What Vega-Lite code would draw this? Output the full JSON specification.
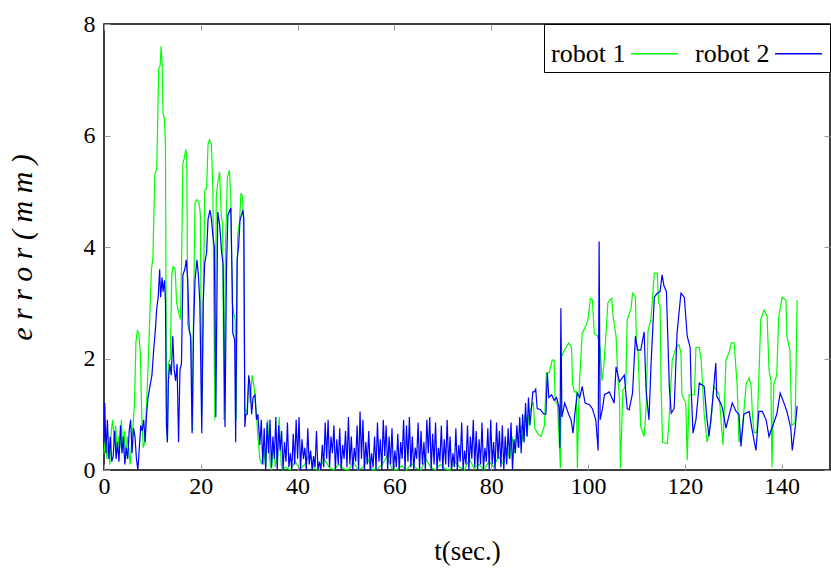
{
"$schema":"https://vega.github.io/schema/vega-lite/v6.json",
"width":726,"height":446,
"autosize":{"type":"none"},
"padding":{"left":104,"top":24,"right":1,"bottom":112},
"background":"white",
"config":{"view":{"stroke":"black","strokeWidth":1.5},"font":"Liberation Serif"},
"datasets":{
"g":[{"t":0,"robot 1":0.3},{"t":0.3,"robot 1":0.6},{"t":0.6,"robot 1":0.2},{"t":0.9,"robot 1":0.5},{"t":1.2,"robot 1":0.1},{"t":1.5,"robot 1":0.7},{"t":1.8,"robot 1":0.9},{"t":2.1,"robot 1":0.5},{"t":2.4,"robot 1":0.8},{"t":2.7,"robot 1":0.3},{"t":3,"robot 1":0.6},{"t":3.3,"robot 1":0.4},{"t":3.6,"robot 1":0.9},{"t":3.9,"robot 1":0.3},{"t":4.2,"robot 1":0.7},{"t":4.5,"robot 1":0.2},{"t":4.8,"robot 1":0.6},{"t":5.1,"robot 1":0.4},{"t":5.4,"robot 1":0.1},{"t":5.7,"robot 1":0.5},{"t":6,"robot 1":0.8},{"t":6.3,"robot 1":1.2},{"t":6.6,"robot 1":2.3},{"t":6.9,"robot 1":2.5},{"t":7.2,"robot 1":2.45},{"t":7.5,"robot 1":2.1},{"t":7.8,"robot 1":1.0},{"t":8.1,"robot 1":0.4},{"t":8.4,"robot 1":0.5},{"t":8.7,"robot 1":1.0},{"t":9,"robot 1":1.6},{"t":9.4,"robot 1":2.6},{"t":9.8,"robot 1":3.6},{"t":10.1,"robot 1":3.8},{"t":10.5,"robot 1":5.3},{"t":10.9,"robot 1":5.4},{"t":11.1,"robot 1":6.3},{"t":11.3,"robot 1":7.2},{"t":11.6,"robot 1":7.25},{"t":11.8,"robot 1":7.6},{"t":12,"robot 1":7.3},{"t":12.2,"robot 1":6.4},{"t":12.5,"robot 1":6.3},{"t":12.7,"robot 1":5.8},{"t":12.9,"robot 1":1.2},{"t":13.1,"robot 1":0.5},{"t":13.3,"robot 1":1.9},{"t":13.7,"robot 1":2.0},{"t":14,"robot 1":3.5},{"t":14.3,"robot 1":3.65},{"t":14.7,"robot 1":3.6},{"t":15,"robot 1":3.0},{"t":15.5,"robot 1":2.8},{"t":15.8,"robot 1":2.7},{"t":16,"robot 1":3.6},{"t":16.3,"robot 1":5.5},{"t":16.6,"robot 1":5.6},{"t":16.9,"robot 1":5.75},{"t":17.1,"robot 1":5.6},{"t":17.3,"robot 1":2.6},{"t":17.7,"robot 1":2.5},{"t":18,"robot 1":2.3},{"t":18.3,"robot 1":0.7},{"t":18.5,"robot 1":2.9},{"t":18.8,"robot 1":4.8},{"t":19.2,"robot 1":4.85},{"t":19.6,"robot 1":4.8},{"t":19.9,"robot 1":4.6},{"t":20.2,"robot 1":1.0},{"t":20.5,"robot 1":2.8},{"t":20.8,"robot 1":5.0},{"t":21.2,"robot 1":5.05},{"t":21.5,"robot 1":5.85},{"t":21.8,"robot 1":5.92},{"t":22.2,"robot 1":5.85},{"t":22.5,"robot 1":5.0},{"t":22.9,"robot 1":0.9},{"t":23.2,"robot 1":4.9},{"t":23.5,"robot 1":5.15},{"t":23.9,"robot 1":5.35},{"t":24.2,"robot 1":4.6},{"t":24.5,"robot 1":4.4},{"t":24.8,"robot 1":0.9},{"t":25.1,"robot 1":4.0},{"t":25.5,"robot 1":5.25},{"t":25.9,"robot 1":5.38},{"t":26.2,"robot 1":4.9},{"t":26.5,"robot 1":3.0},{"t":26.8,"robot 1":2.8},{"t":27.1,"robot 1":2.7},{"t":27.3,"robot 1":0.9},{"t":27.6,"robot 1":4.2},{"t":28,"robot 1":4.45},{"t":28.3,"robot 1":4.97},{"t":28.6,"robot 1":4.9},{"t":28.8,"robot 1":4.5},{"t":29.1,"robot 1":1.1},{"t":29.5,"robot 1":1.0},{"t":29.9,"robot 1":1.6},{"t":30.2,"robot 1":1.2},{"t":30.6,"robot 1":1.7},{"t":31,"robot 1":1.5},{"t":31.4,"robot 1":1.1},{"t":31.8,"robot 1":0.6},{"t":32.2,"robot 1":0.2},{"t":32.6,"robot 1":0.1},{"t":33,"robot 1":0.4},{"t":33.4,"robot 1":0.05},{"t":33.8,"robot 1":0.9},{"t":34.2,"robot 1":0.2},{"t":34.6,"robot 1":0.0},{"t":35,"robot 1":0.5},{"t":35.4,"robot 1":0.05},{"t":35.8,"robot 1":0.3},{"t":36.2,"robot 1":0.95},{"t":36.6,"robot 1":0.1},{"t":37,"robot 1":0.0},{"t":37.5,"robot 1":0.05},{"t":38.5,"robot 1":0.0},{"t":39.5,"robot 1":0.15},{"t":40.5,"robot 1":0.02},{"t":41.5,"robot 1":0.1},{"t":42.5,"robot 1":0.3},{"t":43.5,"robot 1":0.02},{"t":44.5,"robot 1":0.0},{"t":45.5,"robot 1":0.2},{"t":46.5,"robot 1":0.05},{"t":47.5,"robot 1":0.0},{"t":48.5,"robot 1":0.1},{"t":49.5,"robot 1":0.02},{"t":50.5,"robot 1":0.0},{"t":51.5,"robot 1":0.15},{"t":52.5,"robot 1":0.0},{"t":53.5,"robot 1":0.05},{"t":54.5,"robot 1":0.2},{"t":55.5,"robot 1":0.0},{"t":56.5,"robot 1":0.02},{"t":57.5,"robot 1":0.1},{"t":58.5,"robot 1":0.25},{"t":59.5,"robot 1":0.02},{"t":60.5,"robot 1":0.0},{"t":61.5,"robot 1":0.08},{"t":62.5,"robot 1":0.0},{"t":63.5,"robot 1":0.12},{"t":64.5,"robot 1":0.03},{"t":65.5,"robot 1":0.0},{"t":66.5,"robot 1":0.2},{"t":67.5,"robot 1":0.05},{"t":68.5,"robot 1":0.0},{"t":69.5,"robot 1":0.1},{"t":70.5,"robot 1":0.02},{"t":71.5,"robot 1":0.0},{"t":72.5,"robot 1":0.15},{"t":73.5,"robot 1":0.05},{"t":74.5,"robot 1":0.0},{"t":75.5,"robot 1":0.2},{"t":76.5,"robot 1":0.02},{"t":77.5,"robot 1":0.1},{"t":78.5,"robot 1":0.0},{"t":79.5,"robot 1":0.15},{"t":80.5,"robot 1":0.05},{"t":81.5,"robot 1":0.25},{"t":82.5,"robot 1":0.1},{"t":83.2,"robot 1":0.4},{"t":83.8,"robot 1":0.2},{"t":84.3,"robot 1":0.6},{"t":84.8,"robot 1":0.3},{"t":85.3,"robot 1":0.7},{"t":85.8,"robot 1":0.4},{"t":86.2,"robot 1":0.8},{"t":86.6,"robot 1":0.5},{"t":87,"robot 1":1.0},{"t":87.4,"robot 1":0.6},{"t":87.8,"robot 1":1.0},{"t":88.2,"robot 1":1.1},{"t":88.7,"robot 1":1.22},{"t":89,"robot 1":0.75},{"t":89.6,"robot 1":0.65},{"t":90.3,"robot 1":0.6},{"t":91,"robot 1":0.8},{"t":91.4,"robot 1":1.74},{"t":92,"robot 1":1.75},{"t":92.6,"robot 1":1.97},{"t":93,"robot 1":1.97},{"t":93.2,"robot 1":1.25},{"t":93.7,"robot 1":1.17},{"t":94.1,"robot 1":0.42},{"t":94.3,"robot 1":0.03},{"t":94.5,"robot 1":2.03},{"t":95.1,"robot 1":2.15},{"t":95.5,"robot 1":2.2},{"t":96,"robot 1":2.28},{"t":96.6,"robot 1":2.2},{"t":96.8,"robot 1":1.55},{"t":97.2,"robot 1":1.4},{"t":97.6,"robot 1":1.4},{"t":97.8,"robot 1":0.03},{"t":98.2,"robot 1":1.5},{"t":98.8,"robot 1":2.45},{"t":99.6,"robot 1":2.6},{"t":100,"robot 1":2.7},{"t":100.5,"robot 1":3.08},{"t":100.9,"robot 1":3.05},{"t":101.3,"robot 1":2.45},{"t":102,"robot 1":2.4},{"t":102.5,"robot 1":2.2},{"t":102.9,"robot 1":1.6},{"t":103.3,"robot 1":1.9},{"t":103.9,"robot 1":2.7},{"t":104.1,"robot 1":3.0},{"t":104.9,"robot 1":3.08},{"t":105.2,"robot 1":2.75},{"t":105.8,"robot 1":2.4},{"t":106.2,"robot 1":1.6},{"t":106.5,"robot 1":1.3},{"t":106.7,"robot 1":0.03},{"t":107.2,"robot 1":1.43},{"t":107.8,"robot 1":1.5},{"t":108.1,"robot 1":2.7},{"t":108.9,"robot 1":2.9},{"t":109.2,"robot 1":3.17},{"t":109.8,"robot 1":3.1},{"t":110,"robot 1":2.28},{"t":110.3,"robot 1":2.2},{"t":110.7,"robot 1":1.25},{"t":110.9,"robot 1":0.77},{"t":111.6,"robot 1":0.6},{"t":112,"robot 1":1.1},{"t":112.4,"robot 1":2.5},{"t":113,"robot 1":2.7},{"t":113.7,"robot 1":3.53},{"t":114.3,"robot 1":3.53},{"t":114.6,"robot 1":3.0},{"t":114.9,"robot 1":2.95},{"t":115.1,"robot 1":1.5},{"t":115.4,"robot 1":0.5},{"t":116.4,"robot 1":0.47},{"t":116.8,"robot 1":1.0},{"t":117.4,"robot 1":1.97},{"t":118.2,"robot 1":2.2},{"t":118.8,"robot 1":2.25},{"t":119.2,"robot 1":2.1},{"t":119.4,"robot 1":1.35},{"t":120.2,"robot 1":1.2},{"t":120.5,"robot 1":0.18},{"t":120.9,"robot 1":1.35},{"t":122,"robot 1":1.35},{"t":122.3,"robot 1":2.2},{"t":123,"robot 1":2.2},{"t":123.4,"robot 1":1.95},{"t":124,"robot 1":1.0},{"t":124.6,"robot 1":0.5},{"t":125.4,"robot 1":0.85},{"t":126,"robot 1":1.5},{"t":127.1,"robot 1":1.35},{"t":127.6,"robot 1":0.75},{"t":127.9,"robot 1":0.45},{"t":128.5,"robot 1":1.97},{"t":129.2,"robot 1":2.12},{"t":129.6,"robot 1":2.28},{"t":130.2,"robot 1":2.28},{"t":130.5,"robot 1":1.9},{"t":130.8,"robot 1":1.55},{"t":131.2,"robot 1":0.5},{"t":131.8,"robot 1":0.65},{"t":132.7,"robot 1":1.55},{"t":133.3,"robot 1":1.65},{"t":133.7,"robot 1":1.5},{"t":134,"robot 1":0.95},{"t":134.3,"robot 1":0.67},{"t":134.9,"robot 1":0.67},{"t":135.3,"robot 1":1.65},{"t":135.7,"robot 1":2.7},{"t":136.4,"robot 1":2.87},{"t":137,"robot 1":2.75},{"t":137.4,"robot 1":1.8},{"t":137.8,"robot 1":1.6},{"t":138,"robot 1":0.05},{"t":138.4,"robot 1":1.55},{"t":139,"robot 1":1.7},{"t":139.4,"robot 1":2.75},{"t":140.1,"robot 1":3.1},{"t":140.9,"robot 1":3.05},{"t":141.1,"robot 1":2.4},{"t":141.7,"robot 1":2.15},{"t":142.1,"robot 1":0.8},{"t":142.8,"robot 1":0.85},{"t":143,"robot 1":1.9},{"t":143.2,"robot 1":3.05}],
"b":[{"t":0,"robot 2":0.5},{"t":0.15,"robot 2":1.2},{"t":0.4,"robot 2":0.3},{"t":0.7,"robot 2":0.9},{"t":1,"robot 2":0.2},{"t":1.3,"robot 2":0.6},{"t":1.6,"robot 2":0.15},{"t":1.9,"robot 2":0.25},{"t":2.2,"robot 2":0.7},{"t":2.5,"robot 2":0.2},{"t":2.8,"robot 2":0.5},{"t":3.1,"robot 2":0.15},{"t":3.4,"robot 2":0.8},{"t":3.7,"robot 2":0.3},{"t":4,"robot 2":0.6},{"t":4.3,"robot 2":0.1},{"t":4.6,"robot 2":0.4},{"t":4.9,"robot 2":0.2},{"t":5.2,"robot 2":0.7},{"t":5.5,"robot 2":0.9},{"t":5.8,"robot 2":0.3},{"t":6.1,"robot 2":0.75},{"t":6.4,"robot 2":0.6},{"t":6.7,"robot 2":0.2},{"t":7,"robot 2":0.0},{"t":7.3,"robot 2":0.4},{"t":7.6,"robot 2":0.8},{"t":7.9,"robot 2":0.7},{"t":8.2,"robot 2":0.9},{"t":8.5,"robot 2":0.5},{"t":8.8,"robot 2":1.0},{"t":9.1,"robot 2":1.3},{"t":9.5,"robot 2":1.5},{"t":9.9,"robot 2":1.7},{"t":10.3,"robot 2":2.2},{"t":10.6,"robot 2":2.5},{"t":10.9,"robot 2":2.9},{"t":11.2,"robot 2":3.1},{"t":11.5,"robot 2":3.6},{"t":11.7,"robot 2":3.1},{"t":12,"robot 2":3.45},{"t":12.2,"robot 2":3.2},{"t":12.5,"robot 2":3.4},{"t":12.7,"robot 2":3.0},{"t":12.9,"robot 2":0.8},{"t":13.1,"robot 2":0.5},{"t":13.3,"robot 2":1.6},{"t":13.6,"robot 2":1.9},{"t":13.9,"robot 2":1.7},{"t":14.2,"robot 2":2.4},{"t":14.5,"robot 2":1.8},{"t":14.8,"robot 2":1.6},{"t":15.1,"robot 2":1.9},{"t":15.4,"robot 2":0.5},{"t":15.7,"robot 2":1.8},{"t":16,"robot 2":1.9},{"t":16.3,"robot 2":3.5},{"t":16.7,"robot 2":3.6},{"t":17,"robot 2":3.77},{"t":17.3,"robot 2":3.4},{"t":17.6,"robot 2":2.5},{"t":17.9,"robot 2":2.4},{"t":18.2,"robot 2":0.66},{"t":18.5,"robot 2":2.5},{"t":18.8,"robot 2":3.4},{"t":19.2,"robot 2":3.77},{"t":19.5,"robot 2":3.5},{"t":19.8,"robot 2":3.0},{"t":20.2,"robot 2":0.66},{"t":20.5,"robot 2":3.0},{"t":20.8,"robot 2":3.7},{"t":21.2,"robot 2":3.9},{"t":21.5,"robot 2":4.5},{"t":21.9,"robot 2":4.66},{"t":22.2,"robot 2":4.5},{"t":22.5,"robot 2":4.2},{"t":22.8,"robot 2":4.0},{"t":23.1,"robot 2":0.95},{"t":23.5,"robot 2":4.63},{"t":23.9,"robot 2":4.4},{"t":24.3,"robot 2":3.9},{"t":24.6,"robot 2":3.7},{"t":25,"robot 2":0.77},{"t":25.3,"robot 2":3.6},{"t":25.6,"robot 2":4.57},{"t":26.2,"robot 2":4.7},{"t":26.5,"robot 2":3.3},{"t":26.6,"robot 2":2.46},{"t":27,"robot 2":2.33},{"t":27.2,"robot 2":0.5},{"t":27.5,"robot 2":3.77},{"t":27.8,"robot 2":4.0},{"t":28.1,"robot 2":4.48},{"t":28.7,"robot 2":4.66},{"t":28.9,"robot 2":4.5},{"t":29.1,"robot 2":0.77},{"t":29.3,"robot 2":1.0},{"t":29.6,"robot 2":1.0},{"t":29.9,"robot 2":1.7},{"t":30.2,"robot 2":1.5},{"t":30.5,"robot 2":1.0},{"t":30.8,"robot 2":1.3},{"t":31.2,"robot 2":1.35},{"t":31.5,"robot 2":0.9},{"t":31.8,"robot 2":1.0},{"t":32.2,"robot 2":0.45},{"t":32.5,"robot 2":0.9},{"t":32.8,"robot 2":0.1},{"t":33.1,"robot 2":0.75},{"t":33.4,"robot 2":0.0},{"t":33.7,"robot 2":0.85},{"t":34,"robot 2":0.3},{"t":34.3,"robot 2":0.9},{"t":34.6,"robot 2":0.05},{"t":34.9,"robot 2":0.6},{"t":35.2,"robot 2":0.2},{"t":35.5,"robot 2":0.95},{"t":35.8,"robot 2":0.0},{"t":36.1,"robot 2":0.8},{"t":36.4,"robot 2":0.35},{"t":36.7,"robot 2":0.7},{"t":37,"robot 2":0.0},{"t":37.3,"robot 2":0.5},{"t":37.6,"robot 2":0.15},{"t":37.9,"robot 2":0.85},{"t":38.2,"robot 2":0.05},{"t":38.5,"robot 2":0.3},{"t":38.8,"robot 2":0.0},{"t":39.1,"robot 2":0.65},{"t":39.4,"robot 2":0.1},{"t":39.7,"robot 2":0.9},{"t":40,"robot 2":0.2},{"t":40.3,"robot 2":0.95},{"t":40.6,"robot 2":0.0},{"t":40.9,"robot 2":0.55},{"t":41.2,"robot 2":0.2},{"t":41.5,"robot 2":0.4},{"t":41.8,"robot 2":0.0},{"t":42.1,"robot 2":0.75},{"t":42.4,"robot 2":0.1},{"t":42.7,"robot 2":0.35},{"t":43,"robot 2":0.0},{"t":43.3,"robot 2":0.25},{"t":43.6,"robot 2":0.05},{"t":43.9,"robot 2":0.7},{"t":44.2,"robot 2":0.0},{"t":44.5,"robot 2":0.15},{"t":44.8,"robot 2":0.0},{"t":45.1,"robot 2":0.45},{"t":45.4,"robot 2":0.05},{"t":45.7,"robot 2":0.85},{"t":46,"robot 2":0.2},{"t":46.3,"robot 2":0.9},{"t":46.6,"robot 2":0.05},{"t":46.9,"robot 2":0.6},{"t":47.2,"robot 2":0.3},{"t":47.5,"robot 2":0.8},{"t":47.8,"robot 2":0.0},{"t":48.1,"robot 2":0.55},{"t":48.4,"robot 2":0.1},{"t":48.7,"robot 2":0.75},{"t":49,"robot 2":0.0},{"t":49.3,"robot 2":0.45},{"t":49.6,"robot 2":0.2},{"t":49.9,"robot 2":0.7},{"t":50.2,"robot 2":0.05},{"t":50.5,"robot 2":0.95},{"t":50.8,"robot 2":0.1},{"t":51.1,"robot 2":0.6},{"t":51.4,"robot 2":0.0},{"t":51.7,"robot 2":0.4},{"t":52,"robot 2":0.15},{"t":52.3,"robot 2":0.8},{"t":52.6,"robot 2":0.0},{"t":52.9,"robot 2":1.05},{"t":53.2,"robot 2":0.2},{"t":53.5,"robot 2":0.9},{"t":53.8,"robot 2":0.0},{"t":54.1,"robot 2":0.5},{"t":54.4,"robot 2":0.1},{"t":54.7,"robot 2":0.7},{"t":55,"robot 2":0.0},{"t":55.3,"robot 2":0.3},{"t":55.6,"robot 2":0.05},{"t":55.9,"robot 2":0.6},{"t":56.2,"robot 2":0.0},{"t":56.5,"robot 2":0.85},{"t":56.8,"robot 2":0.15},{"t":57.1,"robot 2":0.55},{"t":57.4,"robot 2":0.0},{"t":57.7,"robot 2":0.9},{"t":58,"robot 2":0.25},{"t":58.3,"robot 2":0.8},{"t":58.6,"robot 2":0.0},{"t":58.9,"robot 2":0.6},{"t":59.2,"robot 2":0.1},{"t":59.5,"robot 2":0.75},{"t":59.8,"robot 2":0.0},{"t":60.1,"robot 2":0.35},{"t":60.4,"robot 2":0.05},{"t":60.7,"robot 2":0.65},{"t":61,"robot 2":0.0},{"t":61.3,"robot 2":0.5},{"t":61.6,"robot 2":0.2},{"t":61.9,"robot 2":0.9},{"t":62.2,"robot 2":0.0},{"t":62.5,"robot 2":0.8},{"t":62.8,"robot 2":0.15},{"t":63.1,"robot 2":0.95},{"t":63.4,"robot 2":0.05},{"t":63.7,"robot 2":0.6},{"t":64,"robot 2":0.0},{"t":64.3,"robot 2":0.4},{"t":64.6,"robot 2":0.2},{"t":64.9,"robot 2":0.85},{"t":65.2,"robot 2":0.0},{"t":65.5,"robot 2":0.7},{"t":65.8,"robot 2":0.1},{"t":66.1,"robot 2":0.5},{"t":66.4,"robot 2":0.0},{"t":66.7,"robot 2":0.9},{"t":67,"robot 2":0.3},{"t":67.3,"robot 2":0.95},{"t":67.6,"robot 2":0.0},{"t":67.9,"robot 2":0.65},{"t":68.2,"robot 2":0.1},{"t":68.5,"robot 2":0.85},{"t":68.8,"robot 2":0.0},{"t":69.1,"robot 2":0.4},{"t":69.4,"robot 2":0.15},{"t":69.7,"robot 2":0.8},{"t":70,"robot 2":0.0},{"t":70.3,"robot 2":0.55},{"t":70.6,"robot 2":0.1},{"t":70.9,"robot 2":0.9},{"t":71.2,"robot 2":0.05},{"t":71.5,"robot 2":0.6},{"t":71.8,"robot 2":0.0},{"t":72.1,"robot 2":0.3},{"t":72.4,"robot 2":0.05},{"t":72.7,"robot 2":0.75},{"t":73,"robot 2":0.0},{"t":73.3,"robot 2":0.45},{"t":73.6,"robot 2":0.15},{"t":73.9,"robot 2":0.85},{"t":74.2,"robot 2":0.0},{"t":74.5,"robot 2":0.35},{"t":74.8,"robot 2":0.1},{"t":75.1,"robot 2":0.8},{"t":75.4,"robot 2":0.0},{"t":75.7,"robot 2":0.6},{"t":76,"robot 2":0.2},{"t":76.3,"robot 2":0.9},{"t":76.6,"robot 2":0.05},{"t":76.9,"robot 2":0.7},{"t":77.2,"robot 2":0.0},{"t":77.5,"robot 2":0.55},{"t":77.8,"robot 2":0.1},{"t":78.1,"robot 2":0.85},{"t":78.4,"robot 2":0.0},{"t":78.7,"robot 2":0.4},{"t":79,"robot 2":0.15},{"t":79.3,"robot 2":0.75},{"t":79.6,"robot 2":0.0},{"t":79.9,"robot 2":0.9},{"t":80.2,"robot 2":0.1},{"t":80.5,"robot 2":0.5},{"t":80.8,"robot 2":0.0},{"t":81.1,"robot 2":0.85},{"t":81.4,"robot 2":0.2},{"t":81.7,"robot 2":0.7},{"t":82,"robot 2":0.05},{"t":82.3,"robot 2":0.8},{"t":82.6,"robot 2":0.0},{"t":82.9,"robot 2":0.6},{"t":83.2,"robot 2":0.1},{"t":83.5,"robot 2":0.75},{"t":83.8,"robot 2":0.2},{"t":84.1,"robot 2":0.85},{"t":84.4,"robot 2":0.0},{"t":84.7,"robot 2":0.55},{"t":85,"robot 2":0.3},{"t":85.3,"robot 2":0.8},{"t":85.6,"robot 2":0.4},{"t":85.9,"robot 2":0.95},{"t":86.2,"robot 2":0.3},{"t":86.5,"robot 2":1.0},{"t":86.8,"robot 2":0.5},{"t":87.1,"robot 2":1.2},{"t":87.4,"robot 2":0.6},{"t":87.7,"robot 2":1.3},{"t":88,"robot 2":0.8},{"t":88.3,"robot 2":1.1},{"t":88.6,"robot 2":1.4},{"t":88.9,"robot 2":1.4},{"t":89.2,"robot 2":1.45},{"t":89.5,"robot 2":1.1},{"t":90.2,"robot 2":1.08},{"t":90.9,"robot 2":1.0},{"t":91.3,"robot 2":1.0},{"t":91.6,"robot 2":1.74},{"t":91.9,"robot 2":1.3},{"t":92.5,"robot 2":1.35},{"t":93,"robot 2":1.25},{"t":93.5,"robot 2":1.3},{"t":94,"robot 2":1.13},{"t":94.2,"robot 2":0.4},{"t":94.4,"robot 2":2.9},{"t":94.6,"robot 2":0.95},{"t":95.2,"robot 2":1.2},{"t":95.6,"robot 2":1.1},{"t":96,"robot 2":1.0},{"t":96.5,"robot 2":0.9},{"t":96.9,"robot 2":0.66},{"t":97.4,"robot 2":1.1},{"t":97.8,"robot 2":1.38},{"t":98.3,"robot 2":1.3},{"t":98.8,"robot 2":1.5},{"t":99.4,"robot 2":1.2},{"t":100.3,"robot 2":1.17},{"t":100.9,"robot 2":1.1},{"t":101.6,"robot 2":0.9},{"t":102.1,"robot 2":0.35},{"t":102.3,"robot 2":4.1},{"t":102.5,"robot 2":0.9},{"t":103,"robot 2":1.1},{"t":103.4,"robot 2":1.35},{"t":104.4,"robot 2":1.4},{"t":105.4,"robot 2":1.2},{"t":105.8,"robot 2":1.85},{"t":106.5,"robot 2":1.58},{"t":107.5,"robot 2":1.7},{"t":108.1,"robot 2":1.1},{"t":108.5,"robot 2":1.08},{"t":109.2,"robot 2":1.38},{"t":109.8,"robot 2":2.4},{"t":110.2,"robot 2":2.15},{"t":110.9,"robot 2":2.15},{"t":111.6,"robot 2":2.48},{"t":112,"robot 2":1.43},{"t":112.6,"robot 2":0.9},{"t":113,"robot 2":1.85},{"t":113.7,"robot 2":3.1},{"t":114.3,"robot 2":3.17},{"t":114.9,"robot 2":3.2},{"t":115.3,"robot 2":3.5},{"t":115.7,"robot 2":3.3},{"t":116.2,"robot 2":3.2},{"t":116.4,"robot 2":2.63},{"t":116.8,"robot 2":1.5},{"t":117.2,"robot 2":1.02},{"t":117.8,"robot 2":1.1},{"t":118.4,"robot 2":2.45},{"t":119.2,"robot 2":3.17},{"t":119.9,"robot 2":3.1},{"t":120.5,"robot 2":2.4},{"t":121.1,"robot 2":2.2},{"t":121.3,"robot 2":1.5},{"t":121.7,"robot 2":0.66},{"t":122.3,"robot 2":0.9},{"t":123,"robot 2":1.56},{"t":124,"robot 2":1.5},{"t":124.6,"robot 2":0.9},{"t":125,"robot 2":0.6},{"t":125.6,"robot 2":1.1},{"t":126.4,"robot 2":1.92},{"t":126.6,"robot 2":1.32},{"t":127.4,"robot 2":1.2},{"t":127.8,"robot 2":1.1},{"t":128.5,"robot 2":0.75},{"t":129.2,"robot 2":1.0},{"t":129.8,"robot 2":1.2},{"t":130.6,"robot 2":1.05},{"t":131.2,"robot 2":1.0},{"t":131.6,"robot 2":0.42},{"t":132.2,"robot 2":1.0},{"t":133.3,"robot 2":1.05},{"t":133.9,"robot 2":0.72},{"t":134.7,"robot 2":0.35},{"t":135.3,"robot 2":1.05},{"t":136,"robot 2":1.05},{"t":136.8,"robot 2":0.9},{"t":137.4,"robot 2":0.6},{"t":138,"robot 2":0.75},{"t":139,"robot 2":1.0},{"t":139.7,"robot 2":1.38},{"t":140.5,"robot 2":1.2},{"t":141.1,"robot 2":1.05},{"t":141.9,"robot 2":0.75},{"t":142.2,"robot 2":0.35},{"t":142.8,"robot 2":0.75},{"t":143.2,"robot 2":1.15}]
},
"layer":[
{"data":{"name":"g"},
 "transform":[{"fold":["robot 1"],"as":["robot","e"]}],
 "mark":{"type":"line","strokeWidth":1.2},
 "encoding":{
  "x":{"field":"t","type":"quantitative","scale":{"domain":[0,150],"nice":false,"zero":false},
   "axis":{"orient":"bottom","values":[0,20,40,60,80,100,120,140],"title":"t(sec.)","titleFont":"Liberation Serif","titleFontSize":27,"titleFontWeight":"normal","titleColor":"black","titlePadding":40,"labelFont":"Liberation Serif","labelFontSize":24,"labelColor":"black","labelPadding":10,"labelFlush":false,"tickSize":-6,"tickColor":"#999","domain":false,"grid":false}},
  "y":{"field":"e","type":"quantitative","scale":{"domain":[0,8],"nice":false},
   "axis":{"orient":"left","values":[0,2,4,6,8],"title":"e r r o r ( m m )","titleFont":"Liberation Serif","titleFontSize":30,"titleFontStyle":"italic","titleFontWeight":"normal","titleColor":"black","titlePadding":46,"labelFont":"Liberation Serif","labelFontSize":24,"labelColor":"black","labelPadding":15,"labelFlush":false,"tickSize":-6,"tickColor":"#999","domain":false,"grid":false}},
  "color":{"field":"robot","type":"nominal","scale":{"domain":["robot 1","robot 2"],"range":["#00ff00","#0000ff"]},
   "legend":{"orient":"top-right","offset":0,"direction":"horizontal","title":null,"padding":5,"strokeColor":"black","fillColor":"white","labelFont":"Liberation Serif","labelFontSize":26,"labelColor":"black","symbolType":"stroke","symbolStrokeWidth":1.5,"symbolSize":2209,"symbolOffset":81,"labelOffset":-128,"columnPadding":12,"labelLimit":300}}
 }},
{"data":{"name":"b"},
 "transform":[{"fold":["robot 2"],"as":["robot","e"]}],
 "mark":{"type":"line","strokeWidth":1.2},
 "encoding":{
  "x":{"field":"t","type":"quantitative","axis":null},
  "y":{"field":"e","type":"quantitative","axis":null},
  "color":{"field":"robot","type":"nominal"}
 }},
{"data":{"name":"b"},
 "mark":{"type":"line","opacity":0},
 "encoding":{
  "x":{"field":"t","type":"quantitative","axis":{"orient":"top","values":[0,20,40,60,80,100,120,140],"labels":false,"title":null,"tickSize":-6,"tickColor":"#999","domain":false,"grid":false}},
  "y":{"field":"robot 2","type":"quantitative","axis":{"orient":"right","values":[0,2,4,6,8],"labels":false,"title":null,"tickSize":-6,"tickColor":"#999","domain":false,"grid":false}}
 }}
],
"resolve":{"axis":{"x":"independent","y":"independent"}}
}
